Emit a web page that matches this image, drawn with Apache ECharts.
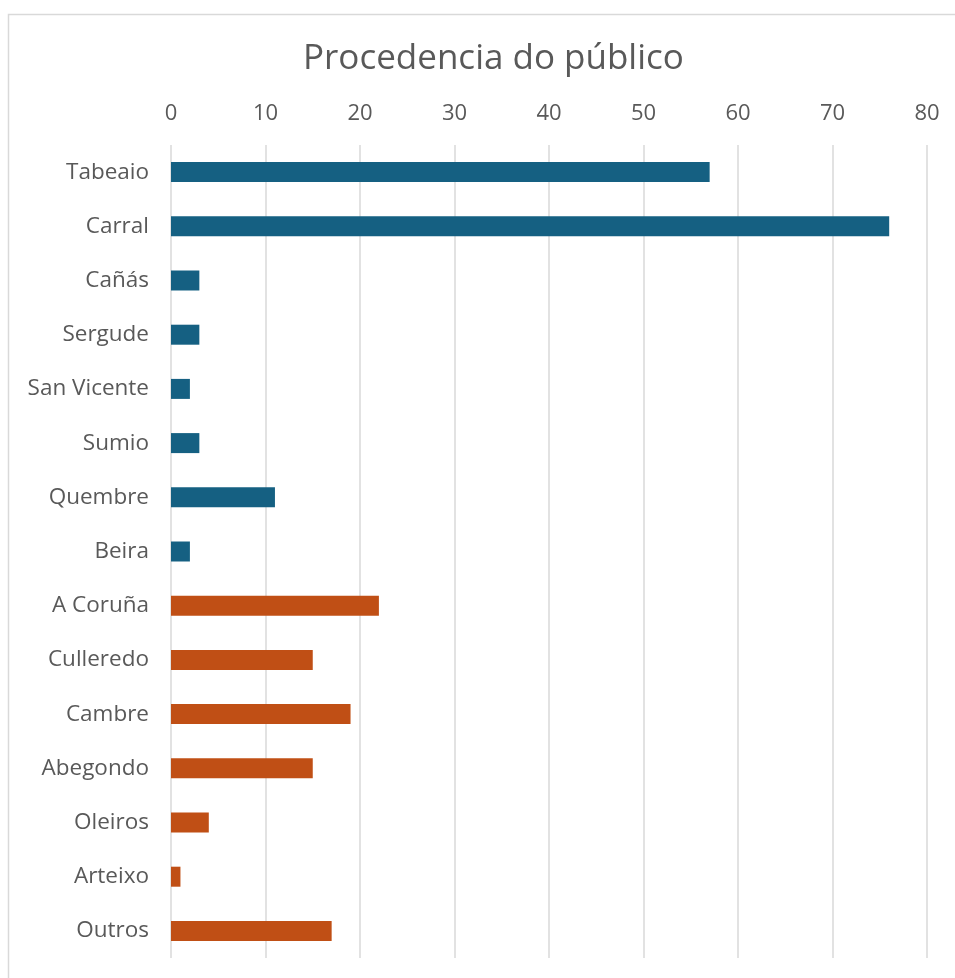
<!DOCTYPE html>
<html>
<head>
<meta charset="utf-8">
<script src="https://cdn.jsdelivr.net/npm/echarts@6/dist/echarts.min.js"></script>
<style>
html,body{margin:0;padding:0;background:#fff;}
#chart{width:955px;height:978px;}
</style>
</head>
<body>
<div id="chart"></div>
<script>
const titleText = 'Procedencia do público';
const categories = ['Tabeaio','Carral','Cañás','Sergude','San Vicente','Sumio','Quembre','Beira','A Coruña','Culleredo','Cambre','Abegondo','Oleiros','Arteixo','Outros'];
const localValues = [57, 76, 3, 3, 2, 3, 11, 2, '-', '-', '-', '-', '-', '-', '-'];
const outsideValues = ['-', '-', '-', '-', '-', '-', '-', '-', 22, 15, 19, 15, 4, 1, 17];
const xTicks = [0, 80, 10];

const font = '"Open Sans", "Liberation Sans", sans-serif';
const chart = echarts.init(document.getElementById('chart'));
chart.setOption({
  animation: false,
  backgroundColor: '#fff',
  graphic: [{
    type: 'rect', z: -10,
    shape: {x: 8.5, y: 14.5, width: 960, height: 990},
    style: {fill: '#fff', stroke: '#d9d9d9', lineWidth: 1.5}
  }],
  title: {
    text: titleText, left: 298, top: 37,
    textStyle: {fontFamily: font, fontSize: 35, fontWeight: 'normal', color: '#595959'}
  },
  grid: {left: 171, right: 28, top: 145, bottom: 20, containLabel: false},
  xAxis: {
    type: 'value', position: 'top', min: xTicks[0], max: xTicks[1], interval: xTicks[2],
    axisLine: {show: false}, axisTick: {show: false},
    axisLabel: {fontFamily: font, fontSize: 22, color: '#595959', margin: 20},
    splitLine: {lineStyle: {color: '#d9d9d9', width: 1.5}}
  },
  yAxis: {
    type: 'category', inverse: true, data: categories,
    axisLine: {show: false}, axisTick: {show: false},
    axisLabel: {fontFamily: font, fontSize: 22.5, color: '#595959', margin: 22}
  },
  series: [
    {type: 'bar', stack: 'a', data: localValues, barWidth: 20, itemStyle: {color: '#156082'}},
    {type: 'bar', stack: 'a', data: outsideValues, barWidth: 20, itemStyle: {color: '#C04F15'}}
  ]
});
</script>
</body>
</html>
